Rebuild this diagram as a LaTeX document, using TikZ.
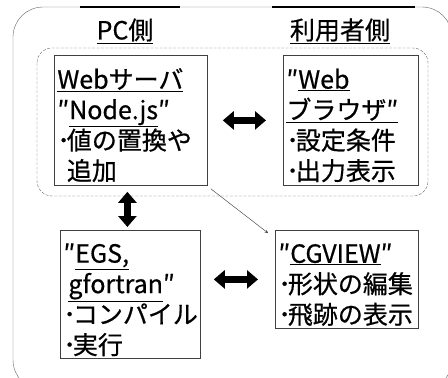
\documentclass[tikz,border=0pt]{standalone}
\usepackage{fontspec}
\setmainfont{Noto Sans CJK JP}[FakeBold=0.6]
\usetikzlibrary{arrows.meta}
\newcommand{\bul}{･\kern-3pt}
\begin{document}
\begin{tikzpicture}[>=stealth,x=1pt,y=-1pt,
	box/.style={draw=black!75,line width=0.8pt,anchor=north west,align=left,inner xsep=3pt,inner ysep=0pt,font=\fontsize{25}{30.5}\selectfont,execute at begin node={\rule{0pt}{30pt}}},
	head/.style={font=\fontsize{25}{28}\selectfont},
	dbl/.style={line width=7pt,{Triangle[length=11pt,width=18pt]}-{Triangle[length=11pt,width=18pt]}}]
	\useasboundingbox (0,0) rectangle (448,378);
	\clip (0,0) rectangle (448,378);
	%		frame
	\draw[black!60,rounded corners=30pt] (13,7) rectangle (452,390);
	\draw[line width=2pt] (80,7)--(180,7) (272,7)--(415,7);
	\draw[black!60,dash pattern=on 3pt off 1.5pt,rounded corners=15pt] (37,48) rectangle (428,196);
	\node[head] (pc) at (125,31) {\underline{PC側}};
	\node[head] (user) at (340,31) {\underline{利用者側}};
	%		boxes
	\node[box,text width=147pt,minimum height=130pt] (web) at (54,55) {\underline{Webサーバ}\\″\underline{Node.js}″\\\bul 値の置換や\\\phantom{\bul}追加};
	\node[box,text width=129pt,minimum height=130pt] (browser) at (283,55) {″\underline{Web}\\\underline{ブラウザ″}\\\bul 設定条件\\\bul 出力表示};
	\node[box,text width=134pt,minimum height=128pt] (egs) at (60,230) {″\underline{EGS,}\\\hspace*{5pt}\underline{gfortran}″\\\bul コンパイル\\\bul 実行};
	\node[box,text width=137pt,minimum height=98pt] (cgview) at (275,230) {″\underline{CGVIEW}″\\\bul 形状の編集\\\bul 飛跡の表示};
	%		arrows
	\draw[dbl,shorten <=15pt,shorten >=17pt] (web.east) -- (browser.west);
	\draw[dbl,shorten <=6pt,shorten >=3pt] ([xshift=-3pt]web.south -| egs.north) -- ([xshift=-3pt]egs.north);
	\draw[dbl,shorten <=13pt,shorten >=17pt] (egs.east |- cgview.west) -- (cgview.west);
	\draw[->,black!80,thin] ([shift={(3pt,-3pt)}]web.south east) -- ([shift={(-7pt,-3pt)}]cgview.north west);
\end{tikzpicture}
\end{document}
